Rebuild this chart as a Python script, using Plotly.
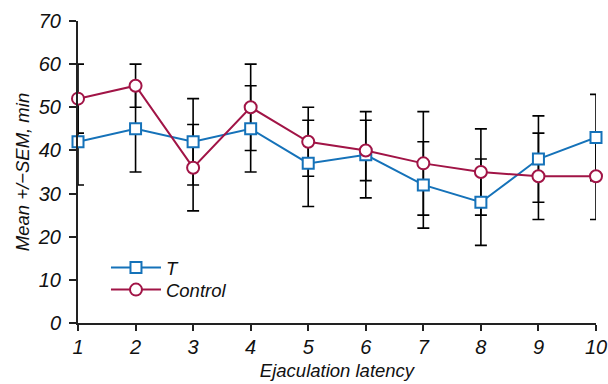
import plotly.graph_objects as go

latency = [1, 2, 3, 4, 5, 6, 7, 8, 9, 10]
t_mean = [42, 45, 42, 45, 37, 39, 32, 28, 38, 43]
t_sem = [10, 10, 10, 10, 10, 10, 10, 10, 10, 10]
ctrl_mean = [52, 55, 36, 50, 42, 40, 37, 35, 34, 34]
ctrl_sem = [8, 5, 10, 10, 8, 7, 12, 10, 10, 10]
y_ticks = [0, 10, 20, 30, 40, 50, 60, 70]

FONT = "Liberation Sans, Arial, sans-serif"
BLUE = "#1572b9"
RED = "#a11446"

fig = go.Figure()

# error bars (drawn first, behind markers)
for mean, sem in [(t_mean, t_sem), (ctrl_mean, ctrl_sem)]:
    fig.add_trace(go.Scatter(
        x=latency, y=mean, mode="markers",
        marker=dict(size=1, opacity=0),
        error_y=dict(type="data", array=sem, visible=True,
                     color="black", thickness=1.6, width=6),
        showlegend=False, hoverinfo="skip", cliponaxis=False,
    ))

fig.add_trace(go.Scatter(
    x=latency, y=t_mean, mode="lines+markers", name="T",
    line=dict(color=BLUE, width=2),
    marker=dict(symbol="square", size=11, color="white",
                line=dict(color=BLUE, width=2)),
    cliponaxis=False, legend="legend",
))
fig.add_trace(go.Scatter(
    x=latency, y=ctrl_mean, mode="lines+markers", name="Control",
    line=dict(color=RED, width=2),
    marker=dict(symbol="circle", size=12, color="white",
                line=dict(color=RED, width=2)),
    cliponaxis=False, legend="legend2",
))

leg_common = dict(xanchor="left", yanchor="middle", bgcolor="rgba(0,0,0,0)",
                  itemwidth=50, font=dict(family=FONT, size=18.5, style="italic"))

fig.update_layout(
    width=608, height=384,
    margin=dict(l=78, r=12, t=21, b=61, autoexpand=False),
    paper_bgcolor="white", plot_bgcolor="white",
    font=dict(family=FONT, size=19, color="#111111"),
    legend=dict(x=0.054, y=0.182, **leg_common),
    legend2=dict(x=0.054, y=0.109, **leg_common),
)
fig.update_xaxes(
    range=[1, 10], tickvals=latency, showgrid=False, zeroline=False,
    showline=True, linecolor="#222222", linewidth=2, automargin=False,
    ticks="outside", ticklen=6, tickwidth=1.6, tickcolor="#222222",
    tickfont=dict(family=FONT, size=20, style="italic"),
    ticklabelstandoff=-1,
    title=dict(text="Ejaculation latency", standoff=7,
               font=dict(family=FONT, size=18.5, style="italic")),
)
fig.update_yaxes(
    range=[0, 70], tickvals=y_ticks, showgrid=False, zeroline=False,
    showline=True, linecolor="#222222", linewidth=2, automargin=False,
    ticks="outside", ticklen=7, tickwidth=1.6, tickcolor="#222222",
    tickfont=dict(family=FONT, size=20, style="italic"),
    ticklabelstandoff=4,
    title=dict(text="Mean +/\u2212SEM, min", standoff=3,
               font=dict(family=FONT, size=18.5, style="italic")),
)

fig.write_html(
    "out.html",
    config={"displayModeBar": False},
    post_script="document.body.style.margin='0';document.body.style.overflow='hidden';",
)
